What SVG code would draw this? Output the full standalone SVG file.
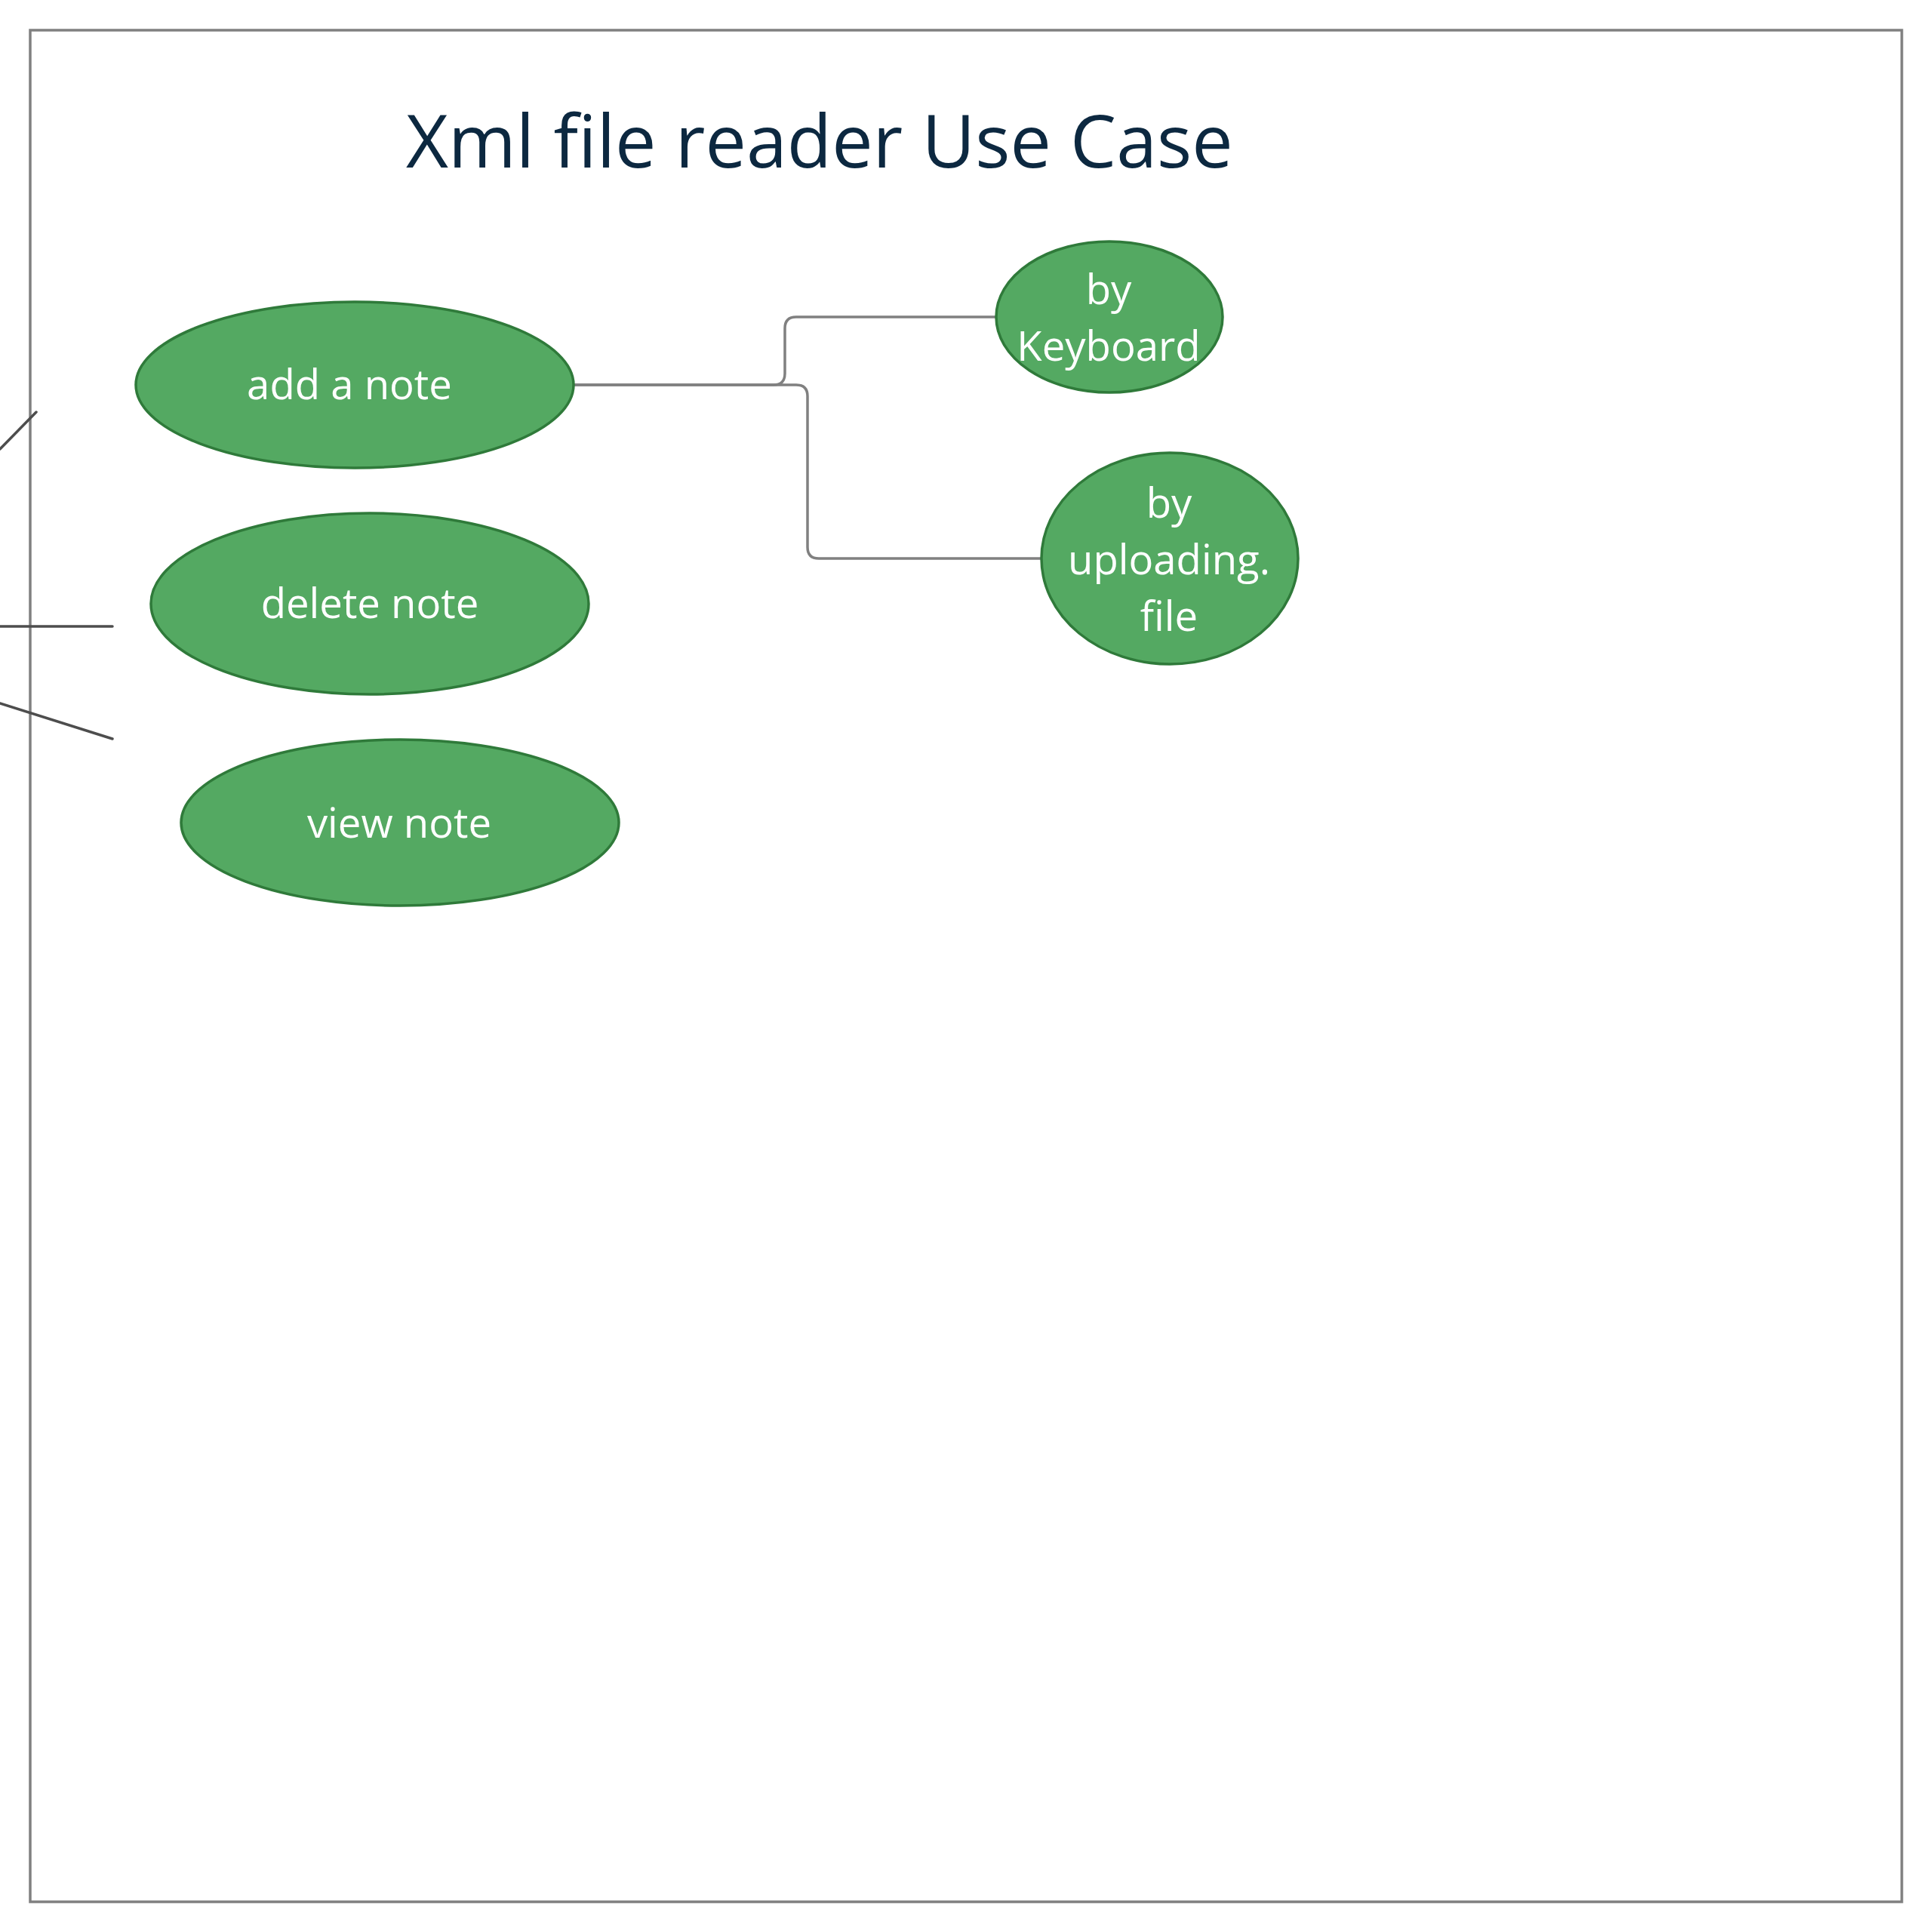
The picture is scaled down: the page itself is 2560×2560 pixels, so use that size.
<svg xmlns="http://www.w3.org/2000/svg" width="2560" height="2560" viewBox="0 0 2560 2560">
  <style>
    .frame { fill: #ffffff; stroke: #808080; stroke-width: 3.5; }
    .uc { fill: #54a962; stroke: #2f7a3a; stroke-width: 3.5; }
    .lbl { font-family: "Open Sans", "Noto Sans", sans-serif; font-size: 54.5px; fill: #ffffff; text-anchor: middle; }
    .title { font-family: "Open Sans", "Noto Sans", sans-serif; font-size: 97px; fill: #0c2840; }
    .conn { fill: none; stroke: #808080; stroke-width: 3.5; }
    .actor { fill: none; stroke: #4d4d4d; stroke-width: 3.5; stroke-linecap: round; }
  </style>
  <rect width="2560" height="2560" fill="#ffffff"/>
  <g id="frame">
    <rect class="frame" x="40" y="40" width="2480" height="2480"/>
    <text class="title" x="538" y="222">Xml file reader Use Case</text>
  </g>
  <g id="connectors">
    <path class="conn" d="M760 510 H1025 Q1040 510 1040 495 V435 Q1040 420 1055 420 H1319"/>
    <path class="conn" d="M760 510 H1055 Q1070 510 1070 525 V725 Q1070 740 1085 740 H1380"/>
    <line class="actor" x1="0" y1="595" x2="48" y2="546"/>
    <line class="actor" x1="0" y1="830" x2="149" y2="830"/>
    <line class="actor" x1="0" y1="932" x2="149" y2="979"/>
  </g>
  <g id="add-a-note">
    <ellipse class="uc" cx="470" cy="510" rx="290" ry="110"/>
    <text class="lbl" x="463" y="529">add a note</text>
  </g>
  <g id="delete-note">
    <ellipse class="uc" cx="490" cy="800" rx="290" ry="120"/>
    <text class="lbl" x="490" y="819">delete note</text>
  </g>
  <g id="view-note">
    <ellipse class="uc" cx="530" cy="1090" rx="290" ry="110"/>
    <text class="lbl" x="529" y="1110">view note</text>
  </g>
  <g id="by-keyboard">
    <ellipse class="uc" cx="1470" cy="420" rx="150" ry="100"/>
    <text class="lbl" x="1469" y="403">by</text>
    <text class="lbl" x="1469" y="478">Keyboard</text>
  </g>
  <g id="by-uploading-file">
    <ellipse class="uc" cx="1550" cy="740" rx="170" ry="140"/>
    <text class="lbl" x="1549" y="686">by</text>
    <text class="lbl" x="1549" y="761">uploading.</text>
    <text class="lbl" x="1549" y="836">file</text>
  </g>
</svg>
